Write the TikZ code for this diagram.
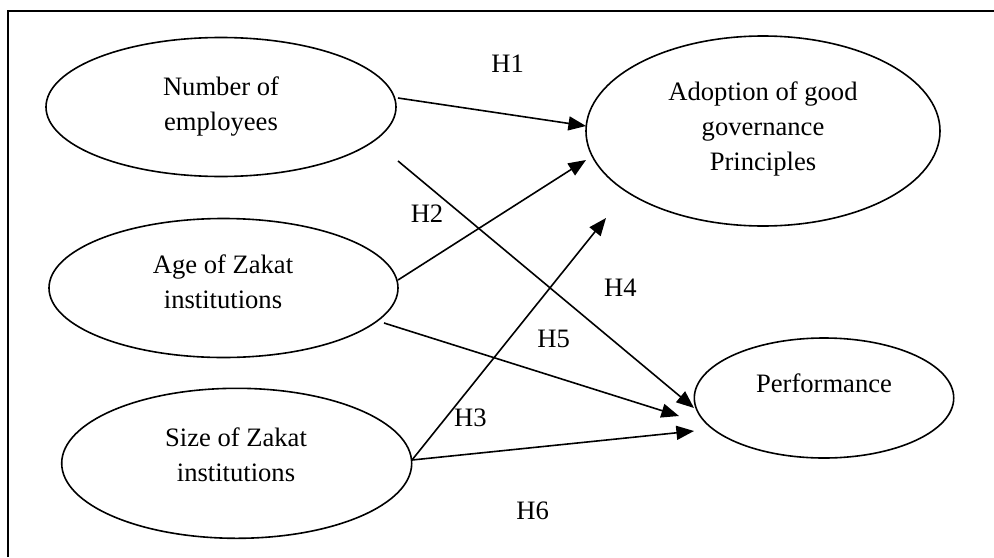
\documentclass[tikz,border=0pt]{standalone}
\usepackage{fontspec}
\setmainfont{Liberation Serif}
\usetikzlibrary{shapes.geometric,arrows.meta}
\begin{document}
\begin{tikzpicture}[x=0.5pt,y=-0.5pt,
  ell/.style={draw, ellipse, line width=0.8pt, inner sep=0pt},
  txt/.style={align=center, inner sep=0pt, font=\fontsize{13.3pt}{17.5pt}\selectfont},
  hyp/.style={inner sep=0pt, font=\fontsize{13.3pt}{17.5pt}\selectfont},
  arr/.style={-{Triangle[length=8.8pt,width=7pt]}, line width=0.8pt},
  frameline/.style={line width=1pt}]
\useasboundingbox (0,0) rectangle (994,557);
% frame (top and left edges visible)
\coordinate (fbl) at (8,557);
\coordinate (ftl) at (8,11);
\coordinate (ftr) at (994,11);
\draw[frameline] (fbl) -- (ftl) -- (ftr);
% ellipses
\node[ell, minimum width=175pt, minimum height=69.5pt] (num) at (221,107) {};
\node[ell, minimum width=174.5pt, minimum height=69.5pt] (age) at (223.5,288) {};
\node[ell, minimum width=175pt, minimum height=75pt] (size) at (236.7,463.3) {};
\node[ell, minimum width=177pt, minimum height=95pt] (adopt) at (763,131) {};
\node[ell, minimum width=129.7pt, minimum height=60pt] (perf) at (824,398) {};
% texts
\node[txt] (numT) at (221,106.9) {Number of\\employees};
\node[txt] (ageT) at (223,281.3) {Age of Zakat\\institutions};
\node[txt] (sizeT) at (236,455) {Size of Zakat\\institutions};
\node[txt] (adoptT) at (763,129.4) {Adoption of good\\governance\\Principles};
\node[txt] (perfT) at (824,382.8) {Performance};
% connector end points
\coordinate (h1s) at (398,98);   \coordinate (h1e) at (586,126);
\coordinate (h2s) at (398,280);  \coordinate (h2e) at (586,160);
\coordinate (h3s) at (412,460);  \coordinate (h3e) at (606,218);
\coordinate (h4s) at (398,161);  \coordinate (h4e) at (694,408);
\coordinate (h5s) at (384,323);  \coordinate (h5e) at (679,416);
\coordinate (h6e) at (694,431);
\draw[arr] (h1s) -- (h1e);
\draw[arr] (h2s) -- (h2e);
\draw[arr] (h3s) -- (h3e);
\draw[arr] (h4s) -- (h4e);
\draw[arr] (h5s) -- (h5e);
\draw[arr] (h3s) -- (h6e);
% hypothesis labels
\node[hyp] (H1) at (507.7,64) {H1};
\node[hyp] (H2) at (427,214) {H2};
\node[hyp] (H3) at (470.3,418) {H3};
\node[hyp] (H4) at (620.3,288) {H4};
\node[hyp] (H5) at (553.7,339) {H5};
\node[hyp] (H6) at (532.7,511.3) {H6};
\end{tikzpicture}
\end{document}
